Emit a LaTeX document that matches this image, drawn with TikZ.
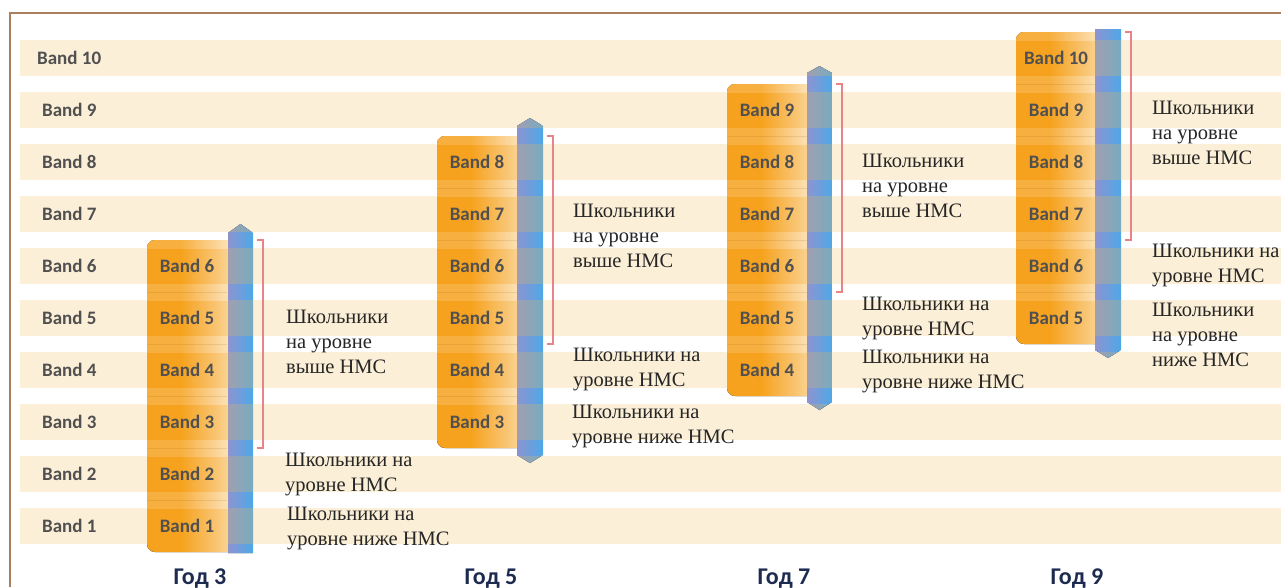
\documentclass[tikz,border=0pt]{standalone}
\usepackage{fontspec}
\setmainfont{Liberation Serif}
\newfontfamily\bandfont{Carlito}
\usetikzlibrary{positioning}

\definecolor{stripe}{HTML}{FCEFD7}
\definecolor{bandorange}{HTML}{F6A21E}
\definecolor{barleft}{HTML}{8C94D0}
\definecolor{barright}{HTML}{4EA8E8}
\definecolor{bartint}{HTML}{C8B478}
\definecolor{brack}{HTML}{E88488}
\definecolor{framebrown}{HTML}{A8805F}
\definecolor{yearblue}{HTML}{1E2B50}
\definecolor{bandgray}{HTML}{505050}
\pgfdeclarehorizontalshading{boxshade}{100bp}{color(0bp)=(bandorange); color(42bp)=(bandorange); color(80bp)=(stripe); color(100bp)=(stripe)}
\pgfdeclarehorizontalshading{gapshade}{100bp}{color(0bp)=(bandorange!85!white); color(42bp)=(bandorange!85!white); color(80bp)=(white); color(100bp)=(white)}

\begin{document}
\begin{tikzpicture}[x=1pt,y=-1pt,
  bandlbl/.style={font=\bandfont\bfseries\fontsize{19}{19}\selectfont,text=bandgray,inner sep=0pt},
  pupils/.style={font=\fontsize{20.5}{25}\selectfont,align=left,anchor=base west,inner sep=0pt,text=black!85},
  yearlbl/.style={font=\bandfont\bfseries\fontsize{24}{24}\selectfont,text=yearblue,anchor=base,inner sep=0pt},
  colbox/.style={shading=boxshade,rounded corners=8pt},
  colbar/.style={left color=barleft,right color=barright},
  bracket/.style={draw=brack,line width=1.2pt}]

  \useasboundingbox (0,0) rectangle (1281,587);
  \fill[white] (0,0) rectangle (1281,587);
  \draw[framebrown,line width=2pt] (10,587) -- (10,13) -- (1281,13);

  % band stripes and their labels
  \foreach \k in {1,...,10}
    \fill[stripe] (20,{40+52*(10-\k)}) rectangle (1281,{76+52*(10-\k)});
  \foreach \k in {1,...,9}
    \node[bandlbl,anchor=west] (b\k) at (42,{58+52*(10-\k)}) {Band \k};
  \node[bandlbl,anchor=west] (b10) at (37,58) {Band 10};

  % year columns: box left / top band / bottom band
  \foreach \yr/\x/\hi/\lo in {3/147/6/1,5/437/8/3,7/727/9/4,9/1016/10/5} {
    \begin{scope}
      \path[clip,rounded corners=8pt] (\x,{32+52*(10-\hi)}) rectangle ({\x+100},{84+52*(10-\lo)});
      \fill[colbox] (\x,{32+52*(10-\hi)}) rectangle ({\x+100},{84+52*(10-\lo)});
      \foreach \k in {\lo,...,\hi}
        \shade[shading=gapshade] (\x,{24+52*(10-\k)}) rectangle ({\x+100},{40+52*(10-\k)});
    \end{scope}
    \foreach \k in {\lo,...,\hi} {
      \node[bandlbl] (y\yr b\k) at ({\x+40},{58+52*(10-\k)}) {Band \k};
    }
    \pgfmathtruncatemacro{\top}{\hi-1}
    \foreach \k in {\lo,...,\top}
      \draw[bandorange!60!black,opacity=0.15] (\x,{32+52*(10-\k)}) -- ({\x+80},{32+52*(10-\k)});
  }

  % bars
  \begin{scope}
    \path[clip] (228,553) -- (228,233) -- (240.5,224) -- (253,233) -- (253,553) -- cycle;
    \fill[colbar] (228,0) rectangle (253,587);
    \foreach \k in {1,...,10} \fill[bartint,opacity=0.35] (228,{40+52*(10-\k)}) rectangle (253,{76+52*(10-\k)});
  \end{scope}
  \begin{scope}
    \path[clip] (517,455) -- (517,126) -- (530,118) -- (543,126) -- (543,455) -- (530,463) -- cycle;
    \fill[colbar] (517,0) rectangle (543,587);
    \foreach \k in {1,...,10} \fill[bartint,opacity=0.35] (517,{40+52*(10-\k)}) rectangle (543,{76+52*(10-\k)});
  \end{scope}
  \begin{scope}
    \path[clip] (807,402) -- (807,73) -- (819.5,66) -- (832,73) -- (832,402) -- (819.5,410) -- cycle;
    \fill[colbar] (807,0) rectangle (832,587);
    \foreach \k in {1,...,10} \fill[bartint,opacity=0.35] (807,{40+52*(10-\k)}) rectangle (832,{76+52*(10-\k)});
  \end{scope}
  \begin{scope}
    \path[clip] (1095,29) -- (1121,29) -- (1121,350) -- (1108,358) -- (1095,350) -- cycle;
    \fill[colbar] (1095,0) rectangle (1121,587);
    \foreach \k in {1,...,10} \fill[bartint,opacity=0.35] (1095,{40+52*(10-\k)}) rectangle (1121,{76+52*(10-\k)});
  \end{scope}

  % brackets
  \foreach \bx/\bt/\bb in {263/240/448,553/136/344,842/84/292,1131/32/240}
    \draw[bracket] ({\bx-6},\bt) -- (\bx,\bt) -- (\bx,\bb) -- ({\bx-6},\bb);

  % Year 3
  \node[pupils] (y3up) at (286,373) {Школьники\\на уровне\\выше НМС};
  \node[pupils] (y3at) at (285,491) {Школьники на\\уровне НМС};
  \node[pupils] (y3lo) at (287,545) {Школьники на\\уровне ниже НМС};
  % Year 5
  \node[pupils] (y5up) at (573,267) {Школьники\\на уровне\\выше НМС};
  \node[pupils] (y5at) at (573,386) {Школьники на\\уровне НМС};
  \node[pupils] (y5lo) at (572,443) {Школьники на\\уровне ниже НМС};
  % Year 7
  \node[pupils] (y7up) at (862,217) {Школьники\\на уровне\\выше НМС};
  \node[pupils] (y7at) at (862,335) {Школьники на\\уровне НМС};
  \node[pupils] (y7lo) at (862,388) {Школьники на\\уровне ниже НМС};
  % Year 9
  \node[pupils] (y9up) at (1152,164) {Школьники\\на уровне\\выше НМС};
  \node[pupils] (y9at) at (1152,282) {Школьники на\\уровне НМС};
  \node[pupils] (y9lo) at (1152,366) {Школьники\\на уровне\\ниже НМС};

  \node[yearlbl] (g3) at (200,584) {Год 3};
  \node[yearlbl] (g5) at (491,584) {Год 5};
  \node[yearlbl] (g7) at (784,584) {Год 7};
  \node[yearlbl] (g9) at (1077,584) {Год 9};
\end{tikzpicture}
\end{document}
